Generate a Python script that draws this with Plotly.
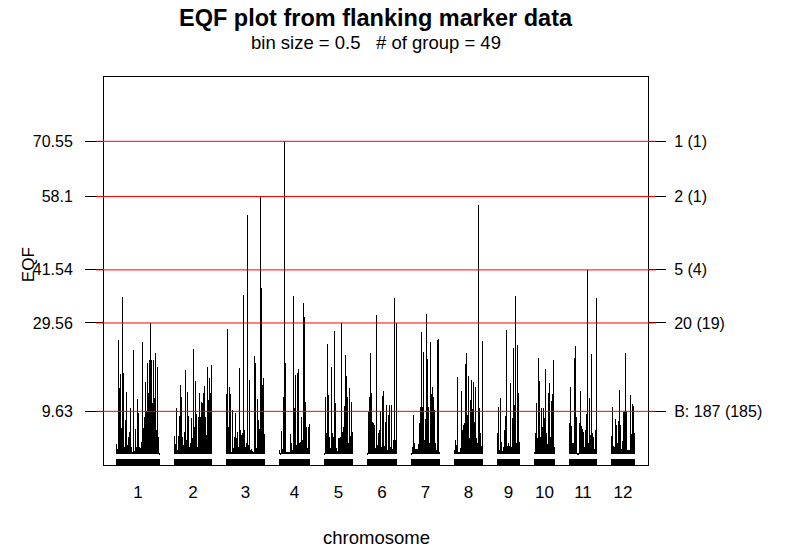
import plotly.graph_objects as go

# EQF per map column, one list per chromosome
chr1 = [2.3, 1.1, 25.7, 15.0, 18.0, 5.9, 35.4, 18.3, 1.6, 7.7, 14.0, 2.0, 3.8, 5.0, 10.4,
        1.6, 0.5, 23.5, 0.7, 5.6, 1.6, 12.4, 9.2, 1.6, 1.3, 2.7, 25.3, 5.9, 8.4, 16.3,
        9.7, 20.5, 13.8, 21.2, 29.6, 21.2, 11.5, 21.2, 12.6, 22.8, 5.4, 19.6, 3.8, 0.2]
chr2 = [4.1, 2.3, 10.4, 0.9, 4.1, 8.6, 15.6, 12.9, 3.8, 2.0, 5.0, 19.0, 3.2, 14.0, 8.6,
        1.6, 2.5, 8.1, 3.6, 23.7, 6.1, 16.5, 9.0, 1.6, 8.4, 13.8, 8.4, 11.7, 11.5, 13.8,
        15.3, 8.4, 4.3, 19.6, 12.2, 17.1, 13.8, 20.1]
chr3 = [13.5, 28.2, 6.1, 15.1, 13.5, 0.5, 9.9, 1.3, 3.8, 9.2, 3.6, 5.0, 1.6, 19.4, 5.4,
        4.3, 4.7, 35.9, 5.4, 1.6, 2.5, 53.9, 2.0, 16.7, 0.9, 1.1, 0.7, 0.5, 22.1, 20.5,
        1.3, 12.4, 7.7, 5.6, 58.1, 37.5, 15.6, 17.1, 4.5]
chr4 = [0.9, 0.2, 5.2, 1.1, 12.9, 70.55, 20.5, 0.5, 0.5, 0.5, 0.5, 4.5, 2.5, 0.9, 35.6,
        10.4, 17.8, 2.0, 18.3, 19.2, 2.5, 2.7, 8.4, 3.2, 34.1, 30.9, 11.7, 6.1, 1.3, 6.1, 6.8]
chr5 = [0.2, 12.9, 4.7, 24.8, 13.3, 3.8, 1.3, 19.6, 4.7, 3.8, 27.8, 11.5, 1.3, 0.7, 3.6,
        3.6, 3.8, 29.6, 5.0, 6.1, 10.8, 22.3, 17.6, 12.9, 2.5, 14.9, 4.1, 11.7, 5.0]
chr6 = [0.2, 9.5, 12.9, 22.8, 13.8, 7.2, 7.0, 6.5, 1.4, 31.4, 2.0, 4.7, 5.4, 9.7, 1.6,
        13.1, 14.2, 1.8, 7.2, 11.0, 0.9, 8.8, 11.0, 1.6, 11.0, 1.1, 3.2, 35.2, 3.2, 29.6]
chr7 = [0.2, 1.6, 8.8, 2.5, 1.1, 1.1, 1.1, 2.3, 7.0, 10.6, 27.5, 10.6, 23.0, 3.2, 7.9,
        31.6, 21.4, 10.6, 2.5, 25.3, 13.5, 15.1, 12.9, 9.9, 2.5, 0.9, 25.7, 25.9, 0.5]
chr8 = [0.9, 3.2, 2.0, 17.4, 0.5, 0.5, 1.3, 14.2, 5.4, 6.5, 7.0, 20.3, 22.8, 8.8, 17.6,
        3.6, 12.2, 16.7, 10.2, 16.2, 7.2, 15.1, 3.6, 2.5, 56.2, 10.4, 4.7, 1.8, 25.5]
chr9 = [4.7, 10.6, 0.9, 12.6, 2.7, 0.7, 1.6, 5.4, 8.6, 28.0, 1.8, 2.5, 1.8, 16.0, 1.6,
        8.1, 23.9, 11.0, 35.6, 2.5, 24.6, 13.8, 2.7]
chr10 = [0.5, 4.7, 11.5, 3.6, 21.7, 16.5, 3.8, 10.4, 6.1, 10.4, 8.1, 19.2, 4.7, 2.3, 13.8,
         16.0, 3.8, 12.0, 13.5, 21.2, 1.6]
chr11 = [7.0, 15.1, 6.3, 2.5, 2.5, 21.7, 24.4, 8.4, 0.2, 0.2, 7.0, 14.2, 6.3, 5.6, 5.0,
         1.6, 5.4, 9.0, 41.54, 2.5, 12.6, 4.3, 22.6, 4.7, 3.8, 1.1, 5.4, 35.2]
chr12 = [4.1, 10.6, 1.8, 1.6, 7.9, 6.5, 2.5, 7.4, 14.4, 6.5, 1.1, 2.9, 9.5, 9.7, 22.8,
         9.7, 0.9, 0.9, 0.9, 13.3, 4.5, 11.3, 10.8, 4.7]

chromosomes = [chr1, chr2, chr3, chr4, chr5, chr6, chr7, chr8, chr9, chr10, chr11, chr12]
chr_names = [str(i) for i in range(1, 13)]

step = 4.0   # cM per column
gap = 56.0   # cM between chromosomes

thresholds = [9.63, 29.56, 41.54, 58.1, 70.55]
threshold_left = ["9.63", "29.56", "41.54", "58.1", "70.55"]
threshold_right = ["B: 187 (185)", "20 (19)", "5 (4)", "2 (1)", "1 (1)"]

FONT = "Liberation Sans, Arial, sans-serif"

xs, ys, mids = [], [], []
marker_x, marker_y = [], []
start = 0.0
for vals in chromosomes:
    for i, v in enumerate(vals):
        xs.append(start + (i + 0.5) * step)
        ys.append(v)
    end = start + len(vals) * step
    mids.append((start + end) / 2)
    marker_x += [start, end, None]
    marker_y += [-1.8, -1.8, None]
    start = end + gap

fig = go.Figure()
fig.add_trace(go.Bar(x=xs, y=ys, width=step, marker=dict(color="black", line=dict(width=0)),
                     showlegend=False, hoverinfo="skip"))
fig.add_trace(go.Scatter(x=marker_x, y=marker_y, mode="lines",
                         line=dict(color="black", width=6), showlegend=False, hoverinfo="skip"))
# dummy trace so the right axis gets drawn
fig.add_trace(go.Scatter(x=[mids[0]] * len(thresholds), y=thresholds, yaxis="y2", mode="markers",
                         marker=dict(opacity=0), showlegend=False, hoverinfo="skip"))

for t in thresholds:
    fig.add_shape(type="line", xref="paper", yref="y", x0=-0.0147, x1=1.0147, y0=t, y1=t,
                  line=dict(color="red", width=1))

yrange = [-2.48, 85.06]
fig.update_layout(
    width=800, height=550,
    margin=dict(l=104, r=152, t=77, b=85),
    plot_bgcolor="white", paper_bgcolor="white",
    font=dict(family=FONT, color="black"),
    bargap=0,
    xaxis=dict(range=[-48, 2128], tickvals=mids, ticktext=chr_names, ticks="",
               ticklabelstandoff=12, tickfont=dict(size=17),
               showline=True, mirror=True, linecolor="black", linewidth=1,
               showgrid=False, zeroline=False),
    yaxis=dict(range=yrange, tickvals=thresholds, ticktext=threshold_left,
               ticks="outside", ticklen=18, tickcolor="black", tickwidth=1,
               ticklabelstandoff=9, tickfont=dict(size=16),
               showline=True, mirror=True, linecolor="black", linewidth=1,
               showgrid=False, zeroline=False),
    yaxis2=dict(range=yrange, overlaying="y", side="right", tickvals=thresholds,
                ticktext=threshold_right, ticks="outside", ticklen=17, tickcolor="black",
                ticklabelstandoff=5, tickfont=dict(size=16),
                showline=False, showgrid=False, zeroline=False),
    annotations=[
        dict(text="<b>EQF plot from flanking marker data</b>", xref="paper", yref="paper",
             x=0.5, y=1.152, xanchor="center", yanchor="middle", showarrow=False,
             font=dict(size=23.5)),
        dict(text="bin size = 0.5&nbsp;&nbsp;&nbsp;# of group = 49", xref="paper", yref="paper",
             x=0.5, y=1.088, xanchor="center", yanchor="middle", showarrow=False,
             font=dict(size=18.5)),
        dict(text="chromosome", xref="paper", yref="paper", x=0.5, y=-0.186,
             xanchor="center", yanchor="middle", showarrow=False, font=dict(size=18.5)),
        dict(text="EQF", xref="paper", yref="paper", x=-0.1397, y=0.515, textangle=-90,
             xanchor="center", yanchor="middle", showarrow=False, font=dict(size=17)),
    ],
)

# drop the default 8px body margin so the 800x550 figure fills the window
fig.write_html("out.html", config={"displayModeBar": False},
               post_script="document.body.style.margin='0';")
